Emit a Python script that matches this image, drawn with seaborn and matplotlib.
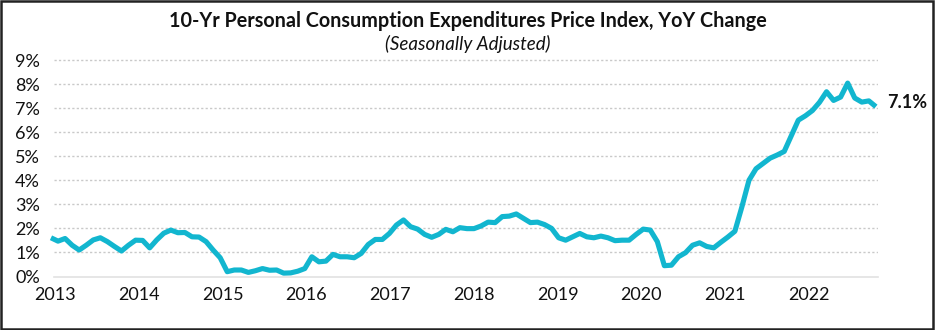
import numpy as np
import pandas as pd
import matplotlib
matplotlib.use("Agg")
import matplotlib.pyplot as plt
from matplotlib.patches import Rectangle
import seaborn as sns

# ---------------- data ----------------
title = "10-Yr Personal Consumption Expenditures Price Index, YoY Change"
subtitle = "(Seasonally Adjusted)"
years = ["2013", "2014", "2015", "2016", "2017", "2018", "2019", "2020", "2021", "2022"]
y_ticks = [0, 1, 2, 3, 4, 5, 6, 7, 8, 9]
y_labels = ["0%", "1%", "2%", "3%", "4%", "5%", "6%", "7%", "8%", "9%"]
months = pd.date_range("2013-01-01", "2022-10-01", freq="MS")
pce_yoy = [
    1.61, 1.47, 1.58, 1.30, 1.10, 1.30, 1.52, 1.61, 1.45, 1.25, 1.06, 1.30,   # 2013
    1.51, 1.50, 1.19, 1.52, 1.80, 1.93, 1.82, 1.83, 1.65, 1.64, 1.45, 1.10,   # 2014
    0.78, 0.20, 0.27, 0.27, 0.17, 0.24, 0.33, 0.26, 0.27, 0.14, 0.15, 0.22,   # 2015
    0.33, 0.82, 0.61, 0.64, 0.92, 0.82, 0.82, 0.78, 0.96, 1.33, 1.54, 1.54,   # 2016
    1.79, 2.14, 2.35, 2.07, 1.97, 1.75, 1.63, 1.75, 1.96, 1.86, 2.03, 1.99,   # 2017
    1.99, 2.10, 2.26, 2.24, 2.49, 2.51, 2.60, 2.42, 2.24, 2.26, 2.16, 2.00,   # 2018
    1.61, 1.51, 1.65, 1.79, 1.65, 1.61, 1.68, 1.61, 1.49, 1.51, 1.51, 1.75,   # 2019
    1.97, 1.93, 1.45, 0.45, 0.47, 0.82, 0.99, 1.30, 1.40, 1.25, 1.19, 1.42,   # 2020
    1.64, 1.88, 2.90, 4.00, 4.48, 4.70, 4.92, 5.05, 5.20, 5.85, 6.50, 6.68,   # 2021
    6.90, 7.24, 7.68, 7.32, 7.46, 8.04, 7.42, 7.25, 7.30, 7.06,               # 2022
]

df = pd.DataFrame({"month": months, "idx": np.arange(len(months)), "value": pce_yoy})

# ---------------- style ----------------
sns.set_style("white")
plt.rcParams["font.family"] = ["Lato", "DejaVu Sans"]
LINE = "#12b6cf"
TXT = "#111111"

W, H = 935, 330
fig = plt.figure(figsize=(W / 100, H / 100), dpi=100)
fig.patch.set_facecolor("white")

# axes placement (pixels)
ax_left, ax_right = 54, 878
ax_bottom, ax_top = 276.5, 58.8
ax = fig.add_axes([ax_left / W, (H - ax_bottom) / H, (ax_right - ax_left) / W, (ax_bottom - ax_top) / H])

sns.lineplot(data=df, x="idx", y="value", ax=ax, color=LINE, linewidth=3.7, legend=False)
for ln in ax.lines:
    ln.set_clip_on(False)
    ln.set_solid_joinstyle("round")
    ln.set_solid_capstyle("butt")

ax.set_xlim(0.43, 117.3)
ax.set_ylim(0, 9.05)

# grid
ax.set_yticks(y_ticks)
ax.set_yticklabels(y_labels, fontsize=13, color=TXT)
for yv in y_ticks[1:]:
    ax.axhline(yv, color="#c9c9c9", lw=1.0, ls=(0, (1.6, 1.6)), zorder=0)

ax.set_xticks(np.linspace(0.57, 107.5, len(years)))
ax.set_xticklabels(years, fontsize=13, color=TXT)

for s in ["top", "right", "left"]:
    ax.spines[s].set_visible(False)
ax.spines["bottom"].set_color("#e2e2e2")
ax.spines["bottom"].set_linewidth(1.2)
ax.tick_params(axis="x", direction="out", length=3, width=1, color="#dcdcdc", pad=4.5)
ax.tick_params(axis="y", length=0, pad=10)
ax.set_xlabel("")
ax.set_ylabel("")

# end label
ax.annotate(f"{pce_yoy[-1]:.1f}%", xy=(df["idx"].iloc[-1], pce_yoy[-1]), xytext=(11, 4),
            textcoords="offset pixels", ha="left", va="center", fontsize=13,
            fontweight="bold", color=TXT, annotation_clip=False)

# titles
fig.text(0.5, 1 - 27 / H, title, ha="center", va="baseline", fontsize=14.2, fontweight="bold", color=TXT)
fig.text(0.5, 1 - 50 / H, subtitle, ha="center", va="baseline", fontsize=13.5, style="italic", color=TXT)

# frame
fig.add_artist(Rectangle((1 / W, 1 / H), (W - 3) / W, (H - 2) / H, transform=fig.transFigure,
                         fill=False, lw=1.8, ec="#222222"))

fig.savefig("out.png", dpi=100, facecolor="white")
